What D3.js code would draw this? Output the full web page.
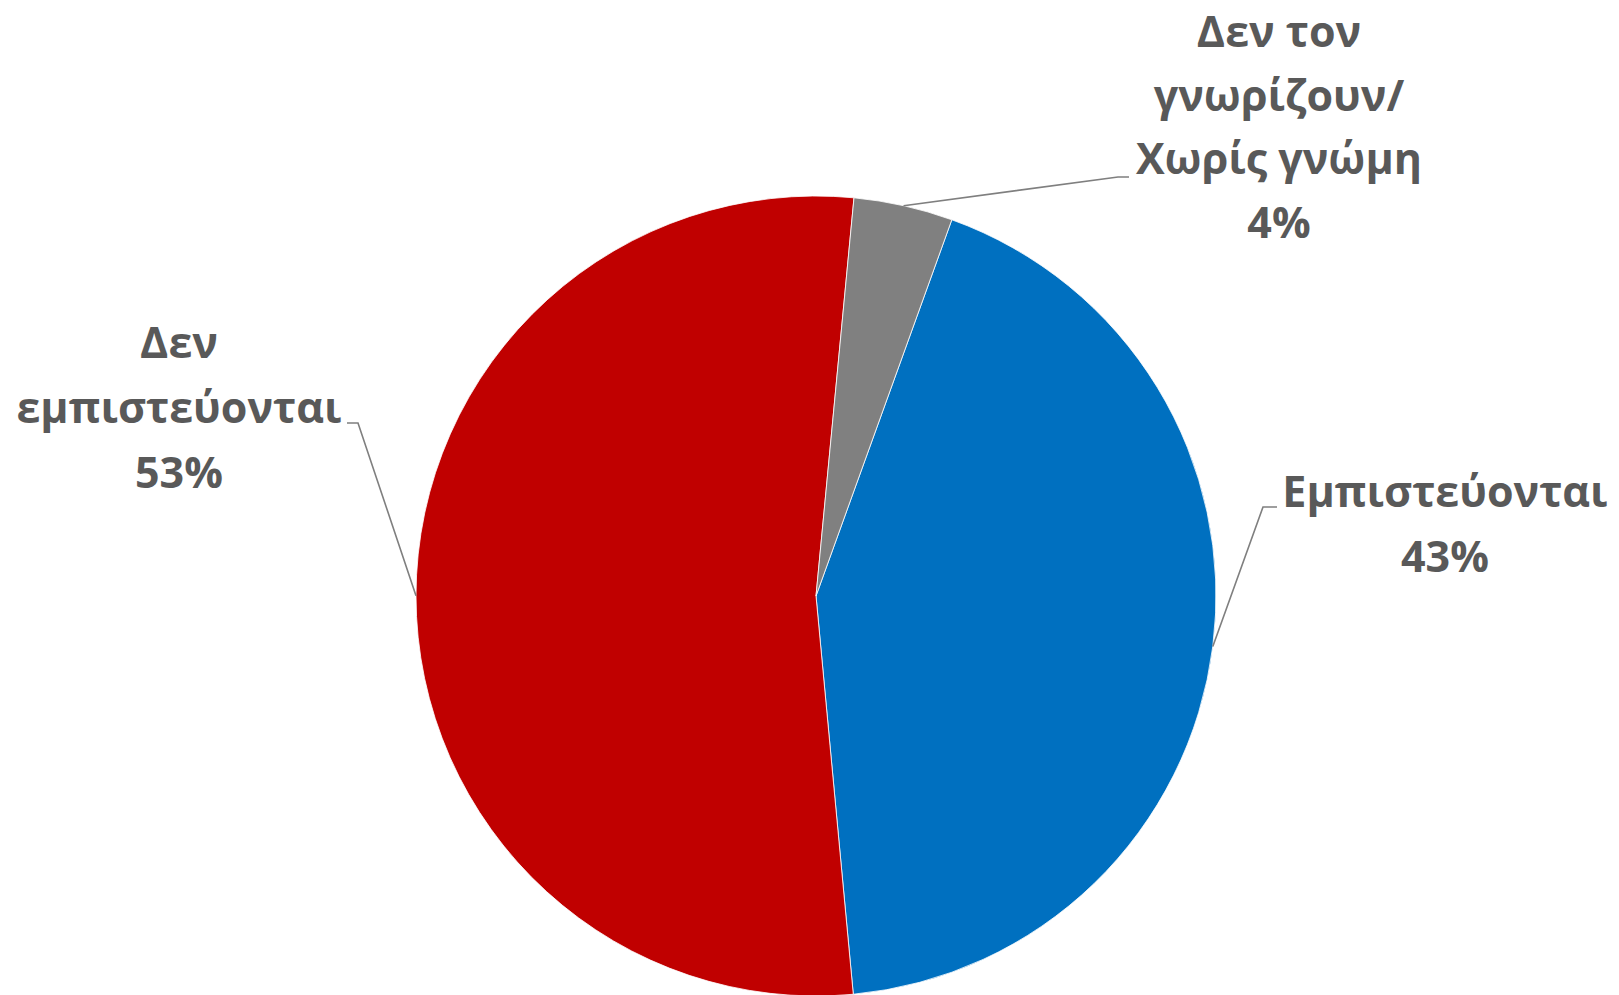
<!DOCTYPE html>
<html>
<head>
<meta charset="utf-8">
<script src="https://cdn.jsdelivr.net/npm/d3@7"></script>
<style>
  html, body { margin: 0; padding: 0; background: #ffffff; }
  svg { display: block; }
</style>
</head>
<body>
<svg id="chart" width="1619" height="995"></svg>
<script>
// ---- data ----
const categories = ["Εμπιστεύονται", "Δεν εμπιστεύονται", "Δεν τον γνωρίζουν/ Χωρίς γνώμη"];
const values = [43, 53, 4];
const labelLines = [["Εμπιστεύονται"], ["Δεν", "εμπιστεύονται"], ["Δεν τον", "γνωρίζουν/", "Χωρίς γνώμη"]];
const colors = ["#0070C0", "#C00000", "#808080"];

// ---- layout ----
const width = 1619, height = 995;
const cx = 816, cy = 596, radius = 400;
const startDeg = 19.85;
const fontSize = 43;
// label placement: centre x, first baseline, line height, leader stub (x0 -> x1 at y)
const labelLayout = [
  { x: 1445, y: 507, lh: 65, stub: [1277, 1263, 507] },
  { x: 179,  y: 358, lh: 65, stub: [347, 358, 423] },
  { x: 1279, y: 47,  lh: 63.5, stub: [1129, 1118, 177] }
];

const svg = d3.select("#chart");
const g = svg.append("g").attr("transform", `translate(${cx},${cy})`);

const start = startDeg * Math.PI / 180;
const pie = d3.pie().sort(null).value(d => d.value)
  .startAngle(start).endAngle(start + 2 * Math.PI);
const data = categories.map((c, i) => ({ name: c, value: values[i], color: colors[i], lines: labelLines[i], layout: labelLayout[i] }));
const arcs = pie(data);
const total = d3.sum(values);
const pct = d3.format(".0%");

const arc = d3.arc().innerRadius(0).outerRadius(radius);
const edge = d3.arc().innerRadius(radius).outerRadius(radius);

g.selectAll("path.slice")
  .data(arcs)
  .join("path")
  .attr("class", "slice")
  .attr("d", arc)
  .attr("fill", d => d.data.color)
  .attr("stroke", "#ffffff")
  .attr("stroke-width", 0.8);

// leader lines
svg.selectAll("polyline.leader")
  .data(arcs)
  .join("polyline")
  .attr("class", "leader")
  .attr("fill", "none")
  .attr("stroke", "#7f7f7f")
  .attr("stroke-width", 1.6)
  .attr("points", d => {
    const [ex, ey] = edge.centroid(d);
    const s = d.data.layout.stub;
    return [[s[0], s[2]], [s[1], s[2]], [cx + ex, cy + ey]].map(p => p.join(",")).join(" ");
  });

// labels
const labels = svg.selectAll("text.label")
  .data(arcs)
  .join("text")
  .attr("class", "label")
  .attr("text-anchor", "middle")
  .attr("font-family", "'Open Sans', 'Noto Sans', sans-serif")
  .attr("font-weight", 700)
  .attr("font-size", fontSize)
  .attr("fill", "#595959");

labels.each(function(d) {
  const t = d3.select(this);
  const L = d.data.layout;
  const lines = d.data.lines.concat([pct(d.data.value / total)]);
  lines.forEach((ln, i) => {
    t.append("tspan")
      .attr("x", L.x)
      .attr("y", L.y + i * L.lh)
      .text(ln);
  });
});
</script>
</body>
</html>
